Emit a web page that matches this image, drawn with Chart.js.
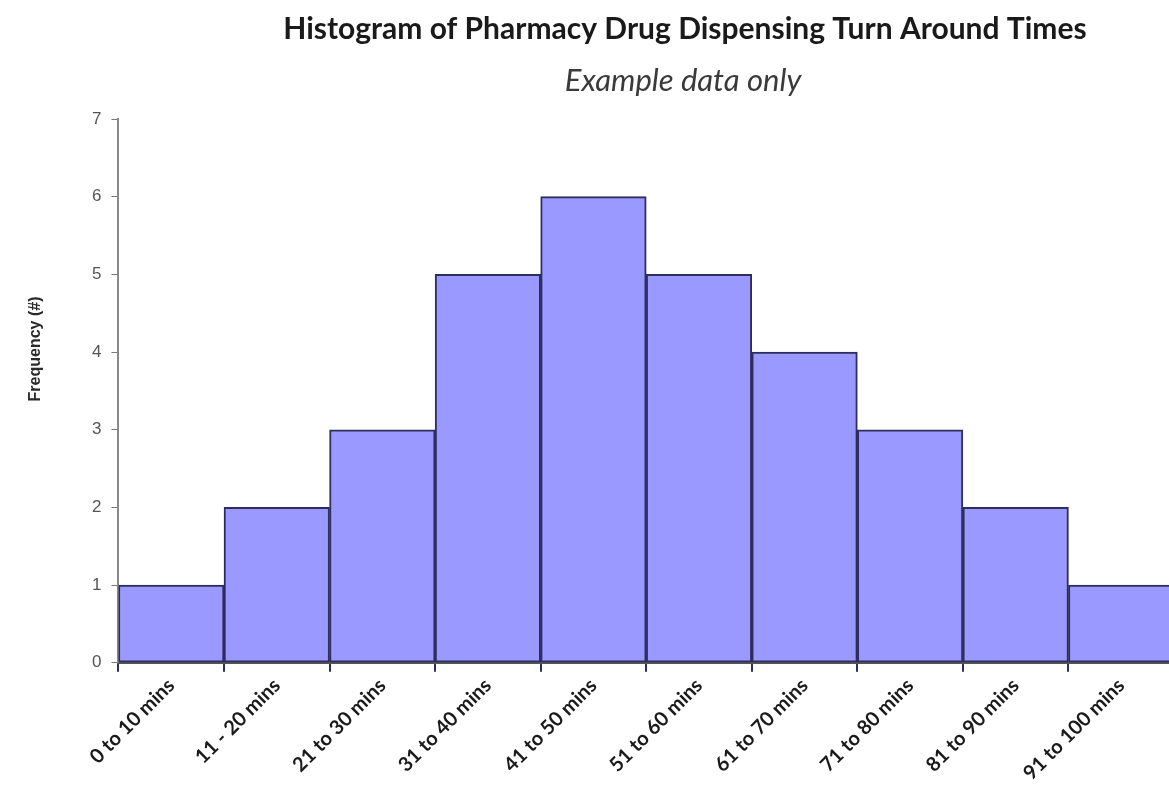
<!DOCTYPE html>
<html>
<head>
<meta charset="utf-8">
<script src="https://cdn.jsdelivr.net/npm/chart.js@4/dist/chart.umd.min.js"></script>
<style>
  html, body { margin: 0; padding: 0; background: #fff; overflow: hidden; }
  #wrap { position: relative; width: 1180px; height: 791px; }
</style>
</head>
<body>
<div id="wrap"><canvas id="chart"></canvas></div>
<script>
// Turn-around time bins and how many prescriptions fell in each
const binLabels = ['0 to 10 mins', '11 - 20 mins', '21 to 30 mins', '31 to 40 mins', '41 to 50 mins',
                   '51 to 60 mins', '61 to 70 mins', '71 to 80 mins', '81 to 90 mins', '91 to 100 mins'];
const frequencies = [1, 2, 3, 5, 6, 5, 4, 3, 2, 1];

const chartTitle = 'Histogram of Pharmacy Drug Dispensing Turn Around Times';
const chartSubtitle = 'Example data only';
const yAxisTitle = 'Frequency (#)';

// Title, subtitle and the rotated y-axis caption
const headingPlugin = {
  id: 'heading',
  afterDraw(chart) {
    const ctx = chart.ctx;
    ctx.save();
    ctx.textAlign = 'center';
    ctx.textBaseline = 'middle';
    ctx.fillStyle = '#1a1a1a';
    ctx.font = 'bold 30px Lato';
    ctx.fillText(chartTitle, 685, 29);
    ctx.fillStyle = '#3a3a3a';
    ctx.font = 'italic 31px Lato';
    ctx.fillText(chartSubtitle, 683, 81);
    ctx.translate(36, 349);
    ctx.rotate(-Math.PI / 2);
    ctx.fillStyle = '#2a2a2a';
    ctx.font = 'bold 16px "Liberation Sans"';
    ctx.fillText(yAxisTitle, 0, 0);
    ctx.restore();
  }
};

new Chart(document.getElementById('chart'), {
  type: 'bar',
  data: {
    labels: binLabels,
    datasets: [{
      data: frequencies,
      backgroundColor: '#9999ff',
      borderColor: '#2e2e5e',
      borderWidth: 2,
      borderSkipped: false,
      categoryPercentage: 1,
      barPercentage: 1
    }]
  },
  options: {
    responsive: true,
    maintainAspectRatio: false,
    animation: false,
    layout: { padding: { top: 119, right: 6, left: 82, bottom: 4 } },
    plugins: { legend: { display: false }, tooltip: { enabled: false } },
    scales: {
      x: {
        grid: { display: true, drawOnChartArea: false, offset: true, tickLength: 9, color: '#2e2e5e', lineWidth: 2 },
        border: { display: true, color: '#555', width: 2 },
        ticks: {
          color: '#1a1a1a',
          font: { family: 'Lato', weight: 'bold', size: 20 },
          maxRotation: 45, minRotation: 45,
          padding: 2
        }
      },
      y: {
        min: 0, max: 7,
        ticks: { stepSize: 1, color: '#555', font: { family: 'Liberation Sans', size: 17 }, padding: 10 },
        grid: { display: true, drawOnChartArea: false, tickLength: 7, color: '#777' },
        border: { display: true, color: '#888', width: 2 }
      }
    }
  },
  plugins: [headingPlugin]
});
</script>
</body>
</html>
